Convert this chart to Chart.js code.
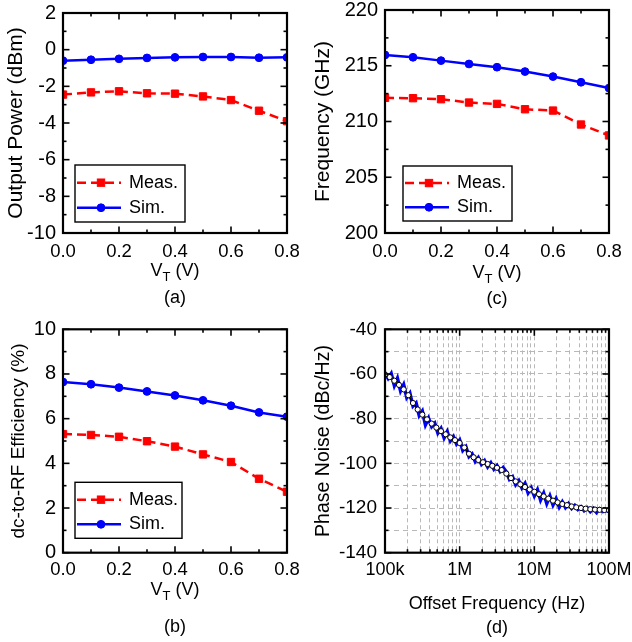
<!DOCTYPE html>
<html>
<head>
<meta charset="utf-8">
<script src="https://cdn.jsdelivr.net/npm/chart.js@4.4.1/dist/chart.umd.min.js"></script>
<style>
body { margin: 0; background: #fff; width: 632px; height: 642px; position: relative; overflow: hidden; font-family: "Liberation Sans", Arial, sans-serif; }
canvas { position: absolute; }
.lbl { position: absolute; width: 240px; text-align: center; font-size: 18px; line-height: 20px; color: #000; }
.lbl sub { font-size: 13px; vertical-align: -5px; line-height: 0; }
</style>
</head>
<body>
<canvas id="chartA" width="316" height="320" style="left:0;top:0"></canvas>
<canvas id="chartC" width="322" height="320" style="left:310px;top:0"></canvas>
<canvas id="chartB" width="316" height="322" style="left:0;top:320px"></canvas>
<canvas id="chartD" width="322" height="322" style="left:310px;top:320px"></canvas>

<div class="lbl" style="left:55px;top:260px">V<sub>T</sub> (V)</div>
<div class="lbl" style="left:55px;top:287px">(a)</div>
<div class="lbl" style="left:377px;top:262px">V<sub>T</sub> (V)</div>
<div class="lbl" style="left:377px;top:288px">(c)</div>
<div class="lbl" style="left:55px;top:579px">V<sub>T</sub> (V)</div>
<div class="lbl" style="left:55px;top:616px">(b)</div>
<div class="lbl" style="left:377px;top:593px">Offset Frequency (Hz)</div>
<div class="lbl" style="left:377px;top:617px">(d)</div>

<script>
// tuning voltage sweep
const vt = [0, 0.1, 0.2, 0.3, 0.4, 0.5, 0.6, 0.7, 0.8];

const powerMeas = [-2.45, -2.33, -2.27, -2.38, -2.40, -2.55, -2.75, -3.33, -3.90];
const powerSim  = [-0.60, -0.55, -0.50, -0.45, -0.42, -0.40, -0.40, -0.44, -0.42];

const freqMeas = [212.12, 212.09, 212.00, 211.70, 211.58, 211.10, 210.98, 209.73, 208.75];
const freqSim  = [215.97, 215.76, 215.46, 215.16, 214.87, 214.48, 214.03, 213.52, 213.00];

const effMeas = [5.31, 5.27, 5.19, 4.99, 4.75, 4.40, 4.06, 3.31, 2.73];
const effSim  = [7.64, 7.54, 7.39, 7.22, 7.04, 6.82, 6.58, 6.28, 6.09];

// phase noise, measured trace (blue)
const pnMeasFreq = [
  1.000e5, 1.101e5, 1.212e5, 1.334e5, 1.468e5, 1.616e5, 1.778e5, 1.957e5, 2.154e5, 2.371e5, 2.610e5, 2.873e5,
  3.162e5, 3.481e5, 3.831e5, 4.217e5, 4.642e5, 5.109e5, 5.623e5, 6.190e5, 6.813e5, 7.499e5, 8.254e5, 9.085e5,
  1.000e6, 1.101e6, 1.212e6, 1.334e6, 1.468e6, 1.616e6, 1.778e6, 1.957e6, 2.154e6, 2.371e6, 2.610e6, 2.873e6,
  3.162e6, 3.481e6, 3.831e6, 4.217e6, 4.642e6, 5.109e6, 5.623e6, 6.190e6, 6.813e6, 7.499e6, 8.254e6, 9.085e6,
  1.000e7, 1.101e7, 1.212e7, 1.334e7, 1.468e7, 1.616e7, 1.778e7, 1.957e7, 2.154e7, 2.371e7, 2.610e7, 2.873e7,
  3.162e7, 3.481e7, 3.831e7, 4.217e7, 4.642e7, 5.109e7, 5.623e7, 6.190e7, 6.813e7, 7.499e7, 8.254e7, 9.085e7,
  1.000e8
];
const pnMeas = [
  -59.5, -62.0, -59.8, -65.2, -61.9, -67.6, -64.8, -70.6, -68.6, -74.4, -73.0, -78.6,
  -76.6, -82.8, -79.8, -83.6, -82.0, -86.4, -84.4, -88.6, -85.8, -90.0, -88.0, -91.4,
  -89.6, -94.2, -92.6, -97.0, -95.8, -99.2, -97.4, -100.4, -98.8, -101.6, -99.8, -102.6,
  -101.0, -103.6, -101.9, -103.8, -107.2, -106.0, -109.6, -107.8, -111.0, -109.0, -113.2, -111.0,
  -114.6, -111.8, -116.4, -113.4, -118.0, -114.6, -118.6, -115.8, -119.6, -117.2, -119.8, -118.0,
  -120.2, -118.8, -120.6, -119.4, -121.2, -119.9, -121.6, -120.2, -122.0, -120.4, -121.6, -121.2,
  -121.2
];

// phase noise, simulated (black line, open circles)
const pnSimFreq = [
  1.000e5, 1.155e5, 1.334e5, 1.540e5, 1.778e5, 2.054e5, 2.371e5, 2.738e5, 3.162e5, 3.652e5, 4.217e5, 4.870e5, 5.623e5, 6.494e5, 7.499e5, 8.660e5,
  1.000e6, 1.155e6, 1.334e6, 1.540e6, 1.778e6, 2.054e6, 2.371e6, 2.738e6, 3.162e6, 3.652e6, 4.217e6, 4.870e6, 5.623e6, 6.494e6, 7.499e6, 8.660e6,
  1.000e7, 1.155e7, 1.334e7, 1.540e7, 1.778e7, 2.054e7, 2.371e7, 2.738e7, 3.162e7, 3.652e7, 4.217e7, 4.870e7, 5.623e7, 6.494e7, 7.499e7, 8.660e7,
  1.000e8
];
const pnSim = [
  -60.2, -61.4, -63.0, -64.9, -66.9, -69.5, -73.0, -75.9, -78.2, -80.3, -82.2, -84.0, -85.6, -87.0, -88.4, -89.6,
  -90.9, -92.9, -95.7, -97.3, -98.5, -99.5, -100.3, -101.1, -102.0, -103.0, -104.6, -106.6, -108.1, -109.4, -110.6, -111.7,
  -112.7, -113.8, -114.8, -115.8, -116.7, -117.5, -118.2, -118.7, -119.3, -119.7, -120.0, -120.3, -120.5, -120.7, -120.8, -120.9,
  -121.0
];

const pnTicks = [
  1e5, 2e5, 3e5, 4e5, 5e5, 6e5, 7e5, 8e5, 9e5,
  1e6, 2e6, 3e6, 4e6, 5e6, 6e6, 7e6, 8e6, 9e6,
  1e7, 2e7, 3e7, 4e7, 5e7, 6e7, 7e7, 8e7, 9e7,
  1e8
];
const pnDecades = [1e5, 1e6, 1e7, 1e8];
const pnTickLabels = ['100k', '1M', '10M', '100M'];

const FONT = "'Liberation Sans', Arial, sans-serif";
const RED = '#ff0000';
const BLUE = '#0000ff';

function pairs(xs, ys) {
  return xs.map((x, i) => ({ x: x, y: ys[i] }));
}

function drawMarker(ctx, ds, x, y) {
  ctx.fillStyle = ds.pointBackgroundColor || ds.borderColor;
  ctx.strokeStyle = ds.pointBorderColor || ds.borderColor;
  ctx.lineWidth = 1;
  ctx.setLineDash([]);
  if (ds.pointStyle === 'rect') {
    const s = ds.pointRadius * Math.SQRT1_2;
    ctx.fillRect(x - s, y - s, 2 * s, 2 * s);
    ctx.strokeRect(x - s, y - s, 2 * s, 2 * s);
  } else {
    ctx.beginPath();
    ctx.arc(x, y, ds.pointRadius, 0, Math.PI * 2);
    ctx.fill();
    ctx.stroke();
  }
}

// box frame, inward ticks on all four sides, boxed legend
const frame = {
  id: 'frame',
  afterDraw(chart, args, opts) {
    const ctx = chart.ctx;
    const a = chart.chartArea;
    const xs = chart.scales.x, ys = chart.scales.y;
    ctx.save();
    ctx.strokeStyle = '#000';
    ctx.lineWidth = 1.6;
    ctx.setLineDash([]);
    const seg = (x1, y1, x2, y2) => { ctx.beginPath(); ctx.moveTo(x1, y1); ctx.lineTo(x2, y2); ctx.stroke(); };
    xs.ticks.forEach(t => {
      const px = xs.getPixelForValue(t.value);
      const len = t.label ? 6.5 : 3.5;
      seg(px, a.bottom, px, a.bottom - len);
      seg(px, a.top, px, a.top + len);
    });
    ys.ticks.forEach(t => {
      const py = ys.getPixelForValue(t.value);
      const len = t.label ? 6.5 : 3.5;
      seg(a.left, py, a.left + len, py);
      seg(a.right, py, a.right - len, py);
    });
    ctx.lineWidth = 2.2;
    ctx.strokeRect(a.left, a.top, a.right - a.left, a.bottom - a.top);

    const L = opts.legend;
    if (L) {
      const bx = a.left + L.x, by = a.top + L.y;
      ctx.fillStyle = '#fff';
      ctx.fillRect(bx, by, L.w, L.h);
      ctx.lineWidth = 1.4;
      ctx.strokeStyle = '#000';
      ctx.strokeRect(bx, by, L.w, L.h);
      chart.data.datasets.forEach((ds, i) => {
        const ry = by + (i === 0 ? L.h * 0.31 : L.h * 0.75);
        ctx.strokeStyle = ds.borderColor;
        ctx.lineWidth = ds.borderWidth;
        ctx.setLineDash(ds.borderDash || []);
        seg(bx + 2, ry, bx + 46, ry);
        drawMarker(ctx, ds, bx + 26, ry);
        ctx.fillStyle = '#000';
        ctx.font = '18px ' + FONT;
        ctx.textBaseline = 'middle';
        ctx.textAlign = 'left';
        ctx.fillText(ds.label, bx + 54, ry);
      });
    }
    ctx.restore();
  }
};

function vtChart(id, meas, sim, cfg) {
  new Chart(document.getElementById(id), {
    type: 'line',
    data: {
      datasets: [
        {
          label: 'Meas.',
          data: pairs(vt, meas),
          borderColor: RED,
          backgroundColor: RED,
          borderWidth: 2.5,
          borderDash: [9, 5],
          pointStyle: 'rect',
          pointRadius: 5.2,
          pointBorderWidth: 1,
          clip: 0
        },
        {
          label: 'Sim.',
          data: pairs(vt, sim),
          borderColor: BLUE,
          backgroundColor: BLUE,
          borderWidth: 2.5,
          pointStyle: 'circle',
          pointRadius: 3.9,
          pointBorderWidth: 1,
          clip: 0
        }
      ]
    },
    options: {
      responsive: false,
      animation: false,
      layout: { padding: { top: cfg.top, right: cfg.right, left: 0, bottom: 0 } },
      plugins: {
        legend: { display: false },
        tooltip: { enabled: false },
        frame: { legend: cfg.legend }
      },
      scales: {
        x: {
          type: 'linear',
          min: 0,
          max: 0.8,
          grid: { display: false, drawTicks: false },
          border: { display: false },
          ticks: {
            stepSize: 0.1,
            autoSkip: false,
            maxRotation: 0,
            padding: cfg.xPad,
            color: '#000',
            font: { family: FONT, size: 18.5, lineHeight: 1 },
            callback: v => (Math.round(v * 10) % 2 === 0 ? v.toFixed(1) : '')
          },
          afterFit: s => { s.height = cfg.xH; s.paddingLeft = 0; s.paddingRight = 0; }
        },
        y: {
          min: cfg.min,
          max: cfg.max,
          grid: { display: false, drawTicks: false },
          border: { display: false },
          ticks: {
            stepSize: cfg.step,
            autoSkip: false,
            padding: 7,
            color: '#000',
            font: { family: FONT, size: 20, lineHeight: 1 },
            callback: v => (Math.abs(v % cfg.major) < 1e-6 ? String(v) : '')
          },
          title: {
            display: true,
            text: cfg.title,
            color: '#000',
            font: { family: FONT, size: cfg.titleSize, lineHeight: 1 },
            padding: { top: cfg.titlePad, bottom: 0 }
          },
          afterFit: s => { s.width = cfg.yW; s.paddingTop = 0; s.paddingBottom = 0; }
        }
      }
    },
    plugins: [frame]
  });
}

vtChart('chartA', powerMeas, powerSim, {
  min: -10, max: 2, step: 1, major: 2,
  title: 'Output Power (dBm)', titleSize: 21, titlePad: 6,
  top: 13, right: 29, yW: 63, xH: 87, xPad: 10,
  legend: { x: 12, y: 152, w: 110, h: 57 }
});

vtChart('chartC', freqMeas, freqSim, {
  min: 200, max: 220, step: 2.5, major: 5,
  title: 'Frequency (GHz)', titleSize: 21, titlePad: 2.5,
  top: 10, right: 23, yW: 75, xH: 87, xPad: 10,
  legend: { x: 18, y: 156, w: 109, h: 55 }
});

vtChart('chartB', effMeas, effSim, {
  min: 0, max: 10, step: 1, major: 2,
  title: 'dc-to-RF Efficiency (%)', titleSize: 19, titlePad: 9,
  top: 9.3, right: 29, yW: 63, xH: 89.3, xPad: 8,
  legend: { x: 12, y: 153, w: 107, h: 56 }
});

// phase noise: simulated curve listed first so it is drawn over the measured trace
new Chart(document.getElementById('chartD'), {
  type: 'line',
  data: {
    datasets: [
      {
        label: 'Simulated',
        data: pairs(pnSimFreq, pnSim),
        borderColor: '#000',
        borderWidth: 1.5,
        pointRadius: 2.6,
        pointBorderWidth: 1,
        pointBorderColor: '#000',
        pointBackgroundColor: '#fff',
        clip: 0
      },
      {
        label: 'Measured',
        data: pairs(pnMeasFreq, pnMeas),
        borderColor: BLUE,
        borderWidth: 3.5,
        pointRadius: 0,
        clip: 0
      }
    ]
  },
  options: {
    responsive: false,
    animation: false,
    layout: { padding: { top: 9.3, right: 23, left: 0, bottom: 0 } },
    plugins: { legend: { display: false }, tooltip: { enabled: false } },
    scales: {
      x: {
        type: 'logarithmic',
        min: 1e5,
        max: 1e8,
        grid: { color: '#b8b8b8', lineWidth: 1, drawTicks: false },
        border: { display: false, dash: [4, 3] },
        afterBuildTicks: s => { s.ticks = pnTicks.map(v => ({ value: v })); },
        ticks: {
          autoSkip: false,
          maxRotation: 0,
          padding: 8,
          color: '#000',
          font: { family: FONT, size: 18, lineHeight: 1 },
          callback: v => { const k = pnDecades.indexOf(v); return k >= 0 ? pnTickLabels[k] : ''; }
        },
        afterFit: s => { s.height = 89.3; s.paddingLeft = 0; s.paddingRight = 0; }
      },
      y: {
        min: -140,
        max: -40,
        grid: { color: '#b8b8b8', lineWidth: 1, drawTicks: false },
        border: { display: false, dash: [5, 4] },
        ticks: {
          stepSize: 10,
          autoSkip: false,
          padding: 8,
          color: '#000',
          font: { family: FONT, size: 19, lineHeight: 1 },
          callback: v => (v % 20 === 0 ? String(v) : '')
        },
        title: {
          display: true,
          text: 'Phase Noise (dBc/Hz)',
          color: '#000',
          font: { family: FONT, size: 19.5, lineHeight: 1 },
          padding: { top: 4, bottom: 0 }
        },
        afterFit: s => { s.width = 75; s.paddingTop = 0; s.paddingBottom = 0; }
      }
    }
  },
  plugins: [frame]
});
</script>
</body>
</html>
